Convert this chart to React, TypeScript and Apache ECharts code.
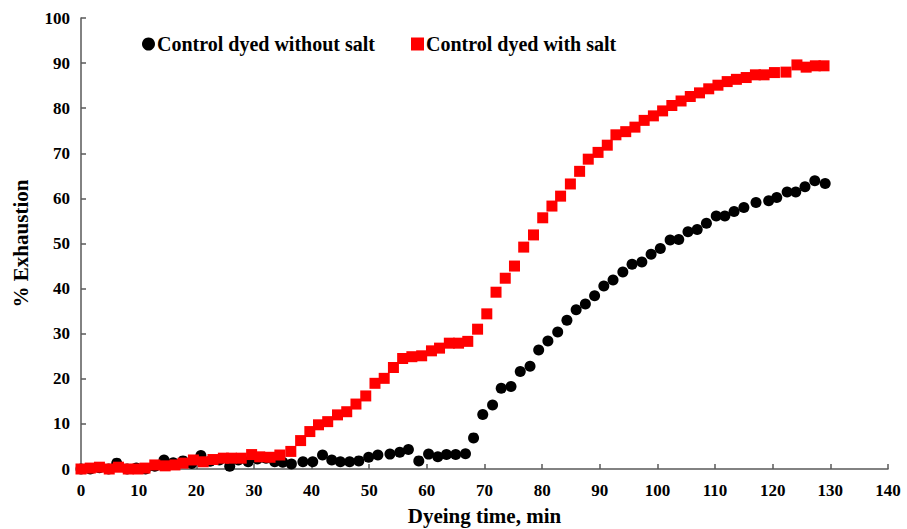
import React, { useEffect, useRef } from "react";
import * as echarts from "echarts";

// Dyeing time (min) and % exhaustion for the control dyed without salt
const noSaltTimes = [
  0, 1.6, 3.2, 4.8, 6.2, 8.0, 9.6, 11.2, 12.8, 14.4, 16.0, 17.7, 19.2, 20.8, 22.4, 24.0,
  25.8, 27.3, 29.0, 30.6, 32.1, 33.6, 35.0, 36.5, 38.5, 40.2, 41.9, 43.5, 45.0, 46.6, 48.2,
  49.9, 51.5, 53.6, 55.3, 56.8, 58.6, 60.3, 61.9, 63.4, 65.0, 66.7, 68.1, 69.7, 71.4, 72.9,
  74.6, 76.2, 77.9, 79.4, 81.0, 82.7, 84.3, 85.9, 87.5, 89.1, 90.7, 92.3, 94.0, 95.6, 97.3,
  98.9, 100.5, 102.2, 103.7, 105.3, 106.9, 108.5, 110.2, 111.7, 113.3, 115.0, 117.1, 119.3,
  120.7, 122.5, 124.0, 125.6, 127.3, 129.1,
];
const noSaltExhaustion = [
  0, 0, 0.3, 0, 1.3, 0, 0.2, 0, 0.6, 2.0, 1.4, 1.8, 1.2, 3.0, 1.7, 2.0,
  0.6, 2.0, 1.6, 2.2, 2.4, 1.6, 1.5, 1.1, 1.6, 1.6, 3.1, 2.0, 1.6, 1.6, 1.8,
  2.6, 3.1, 3.3, 3.7, 4.3, 1.8, 3.3, 2.7, 3.2, 3.2, 3.4, 6.9, 12.1, 14.2, 17.9,
  18.3, 21.6, 22.8, 26.4, 28.4, 30.4, 33.0, 35.3, 36.6, 38.4, 40.6, 41.9, 43.7, 45.4, 45.9,
  47.6, 48.9, 50.8, 50.9, 52.6, 53.1, 54.5, 56.1, 56.1, 57.1, 58.0, 59.1, 59.5,
  60.2, 61.4, 61.4, 62.6, 63.9, 63.3,
];

// Dyeing time (min) and % exhaustion for the control dyed with salt
const saltTimes = [
  0, 1.6, 3.2, 4.9, 6.5, 8.2, 9.9, 11.1, 12.8, 14.6, 16.3, 17.7, 19.5, 21.2, 22.9, 24.7,
  26.1, 27.8, 29.6, 31.0, 32.8, 34.5, 36.4, 38.1, 39.7, 41.2, 42.8, 44.5, 46.1, 47.7, 49.4,
  51.0, 52.6, 54.2, 55.8, 57.4, 59.1, 60.8, 62.2, 63.9, 65.5, 67.1, 68.8, 70.4, 72.0, 73.6,
  75.2, 76.8, 78.5, 80.1, 81.7, 83.2, 84.9, 86.5, 88.0, 89.7, 91.3, 92.8, 94.5, 96.1, 97.7,
  99.3, 100.9, 102.5, 104.1, 105.7, 107.3, 108.9, 110.5, 112.1, 113.7, 115.4, 117.0, 118.5,
  120.3, 122.3, 124.2, 125.8, 127.4, 128.9,
];
const saltExhaustion = [
  0, 0.2, 0.4, 0, 0.4, 0, 0, 0.2, 0.9, 0.7, 0.9, 1.3, 2.0, 1.6, 2.1, 2.4,
  2.4, 2.4, 3.2, 2.7, 2.6, 3.1, 3.9, 6.3, 8.3, 9.8, 10.5, 12.0, 12.7, 14.4, 16.2,
  19.0, 20.1, 22.5, 24.5, 24.9, 25.1, 26.2, 26.8, 27.9, 27.9, 28.3, 31.0, 34.4, 39.2, 42.3,
  45.0, 49.2, 51.9, 55.7, 58.3, 60.5, 63.2, 66.0, 68.7, 70.2, 71.8, 74.1, 74.8, 75.8, 77.3,
  78.3, 79.4, 80.6, 81.6, 82.6, 83.4, 84.3, 85.1, 85.9, 86.4, 86.8, 87.4, 87.4,
  87.9, 88.0, 89.6, 89.1, 89.4, 89.4,
];

const seriesNames = ["Control dyed without salt", "Control dyed with salt"];
const xAxisTitle = "Dyeing time, min";
const yAxisTitle = "% Exhaustion";

const pairs = (xs: number[], ys: number[]) => xs.map((x, i) => [x, ys[i]]);

const FONT = '"Times New Roman", "Liberation Serif", "DejaVu Serif", serif';
const AXIS_COLOR = "#595959";

export default function App() {
  const ref = useRef<HTMLDivElement>(null);

  useEffect(() => {
    if (!ref.current) return;
    const chart = echarts.init(ref.current, undefined, { renderer: "svg" });
    chart.setOption({
      animation: false,
      backgroundColor: "#ffffff",
      textStyle: { fontFamily: FONT, fontWeight: "bold", color: "#000" },
      grid: { left: 81, right: 19, top: 18, bottom: 60, outerBoundsMode: "none" },
      legend: {
        left: 137,
        top: 29,
        itemGap: 36,
        itemWidth: 13,
        itemHeight: 13,
        textStyle: { fontFamily: FONT, fontWeight: "bold", fontSize: 20, color: "#000", padding: [0, 0, 0, -3] },
        data: [
          { name: seriesNames[0], icon: "circle" },
          { name: seriesNames[1], icon: "rect" },
        ],
      },
      xAxis: {
        type: "value",
        min: 0,
        max: 140,
        interval: 10,
        name: xAxisTitle,
        nameLocation: "middle",
        nameGap: 36,
        nameTextStyle: { fontFamily: FONT, fontWeight: "bold", fontSize: 21, color: "#000" },
        axisLine: { show: true, lineStyle: { color: AXIS_COLOR, width: 1.5 } },
        axisTick: { show: true, inside: true, length: 5, lineStyle: { color: AXIS_COLOR, width: 1.5 } },
        axisLabel: { fontFamily: FONT, fontWeight: "bold", fontSize: 17, color: "#000", margin: 13 },
        splitLine: { show: false },
      },
      yAxis: {
        type: "value",
        min: 0,
        max: 100,
        interval: 10,
        name: yAxisTitle,
        nameLocation: "middle",
        nameGap: 50,
        nameRotate: 90,
        nameTextStyle: { fontFamily: FONT, fontWeight: "bold", fontSize: 21, color: "#000" },
        axisLine: { show: true, lineStyle: { color: AXIS_COLOR, width: 1.5 } },
        axisTick: { show: true, inside: true, length: 5, lineStyle: { color: AXIS_COLOR, width: 1.5 } },
        axisLabel: { fontFamily: FONT, fontWeight: "bold", fontSize: 17, color: "#000", margin: 11 },
        splitLine: { show: false },
      },
      series: [
        {
          name: seriesNames[0],
          type: "scatter",
          symbol: "circle",
          symbolSize: 11,
          itemStyle: { color: "#000000", opacity: 1 },
          data: pairs(noSaltTimes, noSaltExhaustion),
          z: 2,
        },
        {
          name: seriesNames[1],
          type: "scatter",
          symbol: "rect",
          symbolSize: 11,
          itemStyle: { color: "#ff0000", opacity: 1 },
          data: pairs(saltTimes, saltExhaustion),
          z: 3,
        },
      ],
    });
    return () => chart.dispose();
  }, []);

  return (
    <div
      ref={ref}
      style={{ position: "fixed", left: 0, top: 0, width: 907, height: 529, background: "#fff" }}
    />
  );
}
